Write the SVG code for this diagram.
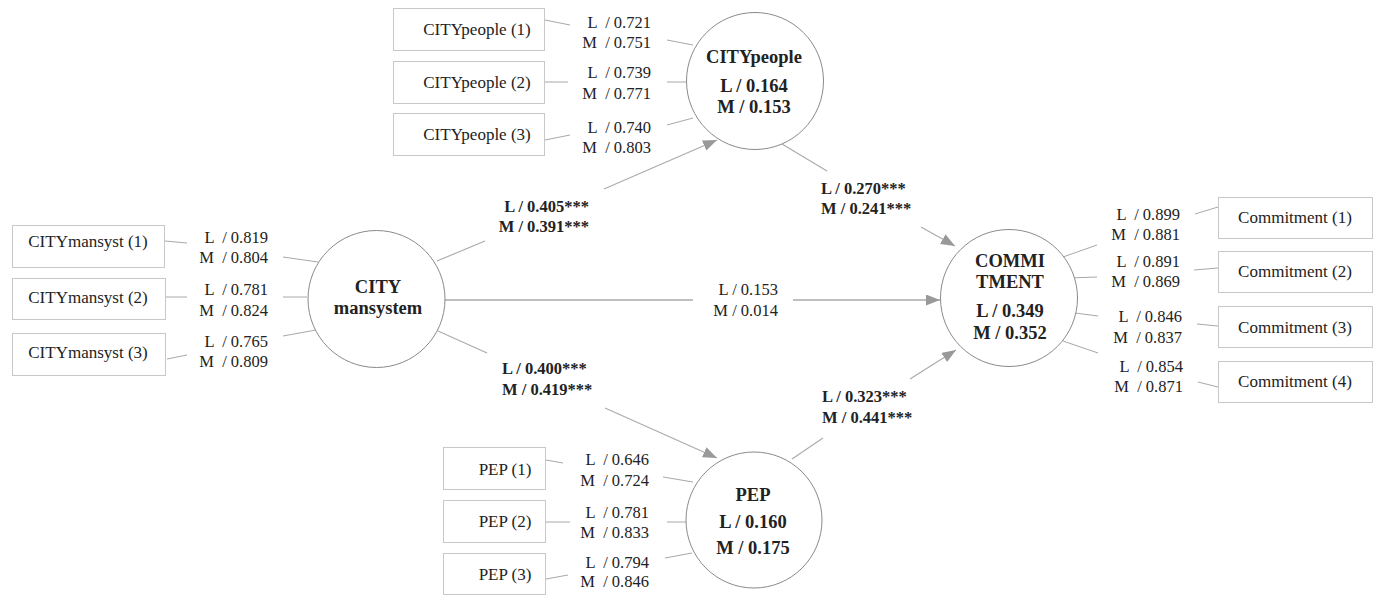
<svg xmlns="http://www.w3.org/2000/svg" width="1378" height="596" viewBox="0 0 1378 596">
<style>
text{font-family:"Liberation Serif","Times New Roman",serif;fill:#222}
.box{fill:#fff;stroke:#c8c8c8;stroke-width:1}
.lat{fill:#fff;stroke:#8a8a8a;stroke-width:1}
.bt{font-size:17px;text-anchor:middle}
.ld{font-size:16.5px;text-anchor:end}
.lt{font-size:18.5px;font-weight:bold;text-anchor:middle}
.pb{font-size:16.5px;font-weight:bold}
.pr{font-size:16.5px}
.ln{stroke:#a8a8a8;stroke-width:1;fill:none}
.pa{stroke:#aaa;stroke-width:1.1;fill:none}
.hz{stroke:#aaa;stroke-width:1.6;fill:none}
</style>
<defs>
<marker id="ah" markerUnits="userSpaceOnUse" markerWidth="16" markerHeight="12" refX="14" refY="5.5" orient="auto">
<path d="M0,0 L14,5.5 L0,11 z" fill="#999"/>
</marker>
</defs>
<rect width="1378" height="596" fill="#fff"/>

<g id="connectors">
<!-- loadings CITYpeople -->
<path class="ln" d="M545,20 L570,25 M667,40 L693,45"/>
<path class="ln" d="M545,82 L568,82 M667,82 L687,82"/>
<path class="ln" d="M545,140 L570,135 M667,125 L693,118"/>
<!-- loadings CITYmansyst -->
<path class="ln" d="M165,241 L187,243 M283,257 L318,262"/>
<path class="ln" d="M166,297 L187,297 M283,297 L307,297"/>
<path class="ln" d="M167,359 L187,355 M283,336 L316,330"/>
<!-- loadings PEP -->
<path class="ln" d="M546,460 L563,463 M663,477 L693,482"/>
<path class="ln" d="M546,522 L570,522 M667,522 L686,522"/>
<path class="ln" d="M546,579 L568,575 M665,558 L692,553"/>
<!-- loadings Commitment -->
<path class="ln" d="M1063,257 L1097,245 M1195,214 L1218,207"/>
<path class="ln" d="M1068,278 L1097,277 M1194,270 L1218,268"/>
<path class="ln" d="M1075,313 L1098,316 M1197,324 L1218,326"/>
<path class="ln" d="M1063,341 L1098,353 M1198,382 L1218,387"/>
<!-- structural paths -->
<line class="pa" x1="437" y1="261" x2="485" y2="241"/>
<line class="pa" x1="604" y1="189" x2="717" y2="140" marker-end="url(#ah)"/>
<line class="pa" x1="438" y1="331" x2="487" y2="353"/>
<line class="pa" x1="605" y1="408" x2="717" y2="458" marker-end="url(#ah)"/>
<line class="hz" x1="444" y1="300" x2="693" y2="300"/>
<line class="hz" x1="793" y1="300" x2="940" y2="300" marker-end="url(#ah)"/>
<line class="pa" x1="782" y1="144" x2="827" y2="171"/>
<line class="pa" x1="921" y1="227" x2="955" y2="246" marker-end="url(#ah)"/>
<line class="pa" x1="792" y1="459" x2="823" y2="438"/>
<line class="pa" x1="910" y1="379" x2="956" y2="350" marker-end="url(#ah)"/>
</g>

<g id="path-labels">
<text class="pb" x="589" y="212" text-anchor="end">L / 0.405***</text>
<text class="pb" x="589" y="232" text-anchor="end">M / 0.391***</text>
<text class="pb" x="502" y="374">L / 0.400***</text>
<text class="pb" x="502" y="395">M / 0.419***</text>
<text class="pb" x="821" y="194">L / 0.270***</text>
<text class="pb" x="821" y="214">M / 0.241***</text>
<text class="pb" x="822" y="402">L / 0.323***</text>
<text class="pb" x="822" y="423">M / 0.441***</text>
<text class="pr" x="778" y="295" text-anchor="end">L / 0.153</text>
<text class="pr" x="778" y="316" text-anchor="end">M / 0.014</text>
</g>

<g id="loading-labels">
<text class="ld" x="651" y="28" xml:space="preserve">L  / 0.721</text>
<text class="ld" x="651" y="48" xml:space="preserve">M  / 0.751</text>
<text class="ld" x="651" y="78" xml:space="preserve">L  / 0.739</text>
<text class="ld" x="651" y="99" xml:space="preserve">M  / 0.771</text>
<text class="ld" x="651" y="133" xml:space="preserve">L  / 0.740</text>
<text class="ld" x="651" y="153" xml:space="preserve">M  / 0.803</text>
<text class="ld" x="268" y="243" xml:space="preserve">L  / 0.819</text>
<text class="ld" x="268" y="263" xml:space="preserve">M  / 0.804</text>
<text class="ld" x="268" y="295" xml:space="preserve">L  / 0.781</text>
<text class="ld" x="268" y="316" xml:space="preserve">M  / 0.824</text>
<text class="ld" x="268" y="347" xml:space="preserve">L  / 0.765</text>
<text class="ld" x="268" y="367" xml:space="preserve">M  / 0.809</text>
<text class="ld" x="649" y="465" xml:space="preserve">L  / 0.646</text>
<text class="ld" x="649" y="486" xml:space="preserve">M  / 0.724</text>
<text class="ld" x="649" y="518" xml:space="preserve">L  / 0.781</text>
<text class="ld" x="649" y="538" xml:space="preserve">M  / 0.833</text>
<text class="ld" x="649" y="568" xml:space="preserve">L  / 0.794</text>
<text class="ld" x="649" y="587" xml:space="preserve">M  / 0.846</text>
<text class="ld" x="1180" y="220" xml:space="preserve">L  / 0.899</text>
<text class="ld" x="1180" y="240" xml:space="preserve">M  / 0.881</text>
<text class="ld" x="1180" y="267" xml:space="preserve">L  / 0.891</text>
<text class="ld" x="1180" y="287" xml:space="preserve">M  / 0.869</text>
<text class="ld" x="1182" y="322" xml:space="preserve">L  / 0.846</text>
<text class="ld" x="1182" y="343" xml:space="preserve">M  / 0.837</text>
<text class="ld" x="1183" y="372" xml:space="preserve">L  / 0.854</text>
<text class="ld" x="1183" y="392" xml:space="preserve">M  / 0.871</text>
</g>

<g id="CITYpeople">
<circle class="lat" cx="755" cy="81" r="68.5"/>
<text class="lt" x="754" y="63">CITYpeople</text>
<text class="lt" x="754" y="92">L / 0.164</text>
<text class="lt" x="754" y="113">M / 0.153</text>
</g>
<g id="CITYmansystem">
<circle class="lat" cx="376.5" cy="299" r="68.5"/>
<text class="lt" x="378" y="293">CITY</text>
<text class="lt" x="378" y="314">mansystem</text>
</g>
<g id="COMMITMENT">
<circle class="lat" cx="1009" cy="298" r="68.5"/>
<text class="lt" x="1010" y="267">COMMI</text>
<text class="lt" x="1010" y="288">TMENT</text>
<text class="lt" x="1010" y="317">L / 0.349</text>
<text class="lt" x="1010" y="339">M / 0.352</text>
</g>
<g id="PEP">
<circle class="lat" cx="754" cy="520" r="68"/>
<text class="lt" x="753" y="501">PEP</text>
<text class="lt" x="753" y="528">L / 0.160</text>
<text class="lt" x="753" y="554">M / 0.175</text>
</g>

<g id="CITYpeople1"><rect class="box" x="393.5" y="8.5" width="151" height="42"/><text class="bt" x="477" y="35">CITYpeople (1)</text></g>
<g id="CITYpeople2"><rect class="box" x="393.5" y="61.5" width="151" height="42"/><text class="bt" x="477" y="88">CITYpeople (2)</text></g>
<g id="CITYpeople3"><rect class="box" x="393.5" y="113.5" width="151" height="42"/><text class="bt" x="477" y="140">CITYpeople (3)</text></g>

<g id="CITYmansyst1"><rect class="box" x="12.5" y="225.5" width="152" height="42"/><text class="bt" x="88" y="247">CITYmansyst (1)</text></g>
<g id="CITYmansyst2"><rect class="box" x="12.5" y="278.5" width="153" height="41"/><text class="bt" x="88" y="303">CITYmansyst (2)</text></g>
<g id="CITYmansyst3"><rect class="box" x="12.5" y="333.5" width="153" height="42"/><text class="bt" x="88" y="358">CITYmansyst (3)</text></g>

<g id="PEP1"><rect class="box" x="443.5" y="447.5" width="102" height="42"/><text class="bt" x="505" y="475">PEP (1)</text></g>
<g id="PEP2"><rect class="box" x="443.5" y="500.5" width="102" height="42"/><text class="bt" x="505" y="527">PEP (2)</text></g>
<g id="PEP3"><rect class="box" x="443.5" y="553.5" width="102" height="41"/><text class="bt" x="505" y="580">PEP (3)</text></g>

<g id="Commitment1"><rect class="box" x="1218.5" y="197.5" width="154" height="41"/><text class="bt" x="1295" y="223">Commitment (1)</text></g>
<g id="Commitment2"><rect class="box" x="1218.5" y="251.5" width="154" height="41"/><text class="bt" x="1295" y="277">Commitment (2)</text></g>
<g id="Commitment3"><rect class="box" x="1218.5" y="306.5" width="154" height="41"/><text class="bt" x="1295" y="333">Commitment (3)</text></g>
<g id="Commitment4"><rect class="box" x="1218.5" y="361.5" width="154" height="41"/><text class="bt" x="1295" y="387">Commitment (4)</text></g>
</svg>
